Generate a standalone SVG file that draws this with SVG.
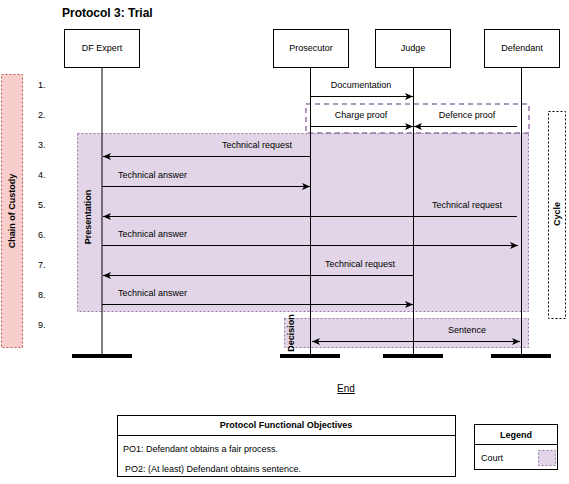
<svg xmlns="http://www.w3.org/2000/svg" width="569" height="484" viewBox="0 0 569 484">
<defs>
<style>
text{font-family:"Liberation Sans",Arial,sans-serif;font-size:9px;fill:#000}
.b{font-weight:bold}
.title{font-size:12px;font-weight:bold}
.box{fill:#fff;stroke:#000;stroke-width:1}
.life{stroke:#000;stroke-width:1}
.bar{fill:#000}
.msg{stroke:#000;stroke-width:1;fill:none}
.court{fill:#e1d5e7;stroke:#9673a6;stroke-width:1;stroke-dasharray:2,2}
.grp{fill:none;stroke:#9673a6;stroke-width:1.5;stroke-dasharray:5,4}
.coc{fill:#f8cecc;stroke:#b85450;stroke-width:1;stroke-dasharray:2,2}
.cyc{fill:#fff;stroke:#000;stroke-width:1;stroke-dasharray:2,2}
</style>
<marker id="ah" viewBox="0 0 8 7" refX="8" refY="3.5" markerWidth="8" markerHeight="7" markerUnits="userSpaceOnUse" orient="auto-start-reverse">
<path d="M0,0 L8,3.5 L0,7 L2,3.5 z" fill="#000"/>
</marker>
</defs>
<rect width="569" height="484" fill="#fff"/>
<text class="title" x="62" y="17">Protocol 3: Trial</text>

<g id="chain-of-custody">
<rect class="coc" x="1.5" y="74.5" width="21" height="273"/>
<text class="b" transform="translate(15,211) rotate(-90)" text-anchor="middle">Chain of Custody</text>
</g>

<g id="cycle">
<rect class="cyc" x="548.5" y="111.5" width="17" height="207"/>
<text class="b" transform="translate(560,214) rotate(-90)" text-anchor="middle">Cycle</text>
</g>

<g id="presentation">
<rect class="court" x="77.5" y="133.5" width="451" height="178"/>
<text class="b" transform="translate(91,217) rotate(-90)" text-anchor="middle">Presentation</text>
</g>

<g id="decision">
<rect class="court" x="284.5" y="318.5" width="244" height="29"/>
<text class="b" transform="translate(294,333) rotate(-90)" text-anchor="middle">Decision</text>
</g>

<g id="proof-group">
<rect class="grp" x="306" y="104" width="223" height="29"/>
</g>

<g id="row-numbers">
<text x="38" y="88">1.</text>
<text x="38" y="118">2.</text>
<text x="38" y="148">3.</text>
<text x="38" y="178">4.</text>
<text x="38" y="208">5.</text>
<text x="38" y="238">6.</text>
<text x="38" y="268">7.</text>
<text x="38" y="298">8.</text>
<text x="38" y="328">9.</text>
</g>

<g id="df-expert">
<rect class="box" x="64.5" y="29.5" width="75" height="38"/>
<text x="102" y="51" text-anchor="middle">DF Expert</text>
<line class="life" x1="102" y1="67.5" x2="102" y2="355"/>
<rect class="bar" x="72" y="354" width="60" height="4"/>
</g>

<g id="prosecutor">
<rect class="box" x="273.5" y="29.5" width="75" height="38"/>
<text x="311" y="51" text-anchor="middle">Prosecutor</text>
<line class="life" x1="310.5" y1="67.5" x2="310.5" y2="355"/>
<rect class="bar" x="280" y="354" width="60" height="4"/>
</g>

<g id="judge">
<rect class="box" x="375.5" y="29.5" width="75" height="38"/>
<text x="413" y="51" text-anchor="middle">Judge</text>
<line class="life" x1="413.5" y1="67.5" x2="413.5" y2="355"/>
<rect class="bar" x="383" y="354" width="60" height="4"/>
</g>

<g id="defendant">
<rect class="box" x="484.5" y="29.5" width="75" height="38"/>
<text x="522" y="51" text-anchor="middle">Defendant</text>
<line class="life" x1="521.5" y1="67.5" x2="521.5" y2="355"/>
<rect class="bar" x="491" y="354" width="60" height="4"/>
</g>

<g id="connectors">
<line class="msg" x1="310.5" y1="96.5" x2="413" y2="96.5" marker-end="url(#ah)"/>
<text x="361" y="88" text-anchor="middle">Documentation</text>

<line class="msg" x1="310.5" y1="126.5" x2="413" y2="126.5" marker-end="url(#ah)"/>
<text x="361" y="118" text-anchor="middle">Charge proof</text>
<line class="msg" x1="517" y1="126.5" x2="414" y2="126.5" marker-end="url(#ah)"/>
<text x="467" y="118" text-anchor="middle">Defence proof</text>

<line class="msg" x1="310.5" y1="156.5" x2="103" y2="156.5" marker-end="url(#ah)"/>
<text x="292" y="148" text-anchor="end">Technical request</text>

<line class="msg" x1="102" y1="186.5" x2="310" y2="186.5" marker-end="url(#ah)"/>
<text x="118" y="178">Technical answer</text>

<line class="msg" x1="517" y1="216.5" x2="103" y2="216.5" marker-end="url(#ah)"/>
<text x="502" y="208" text-anchor="end">Technical request</text>

<line class="msg" x1="102" y1="245.5" x2="518" y2="245.5" marker-end="url(#ah)"/>
<text x="118" y="237">Technical answer</text>

<line class="msg" x1="413.5" y1="275.5" x2="103" y2="275.5" marker-end="url(#ah)"/>
<text x="395" y="267" text-anchor="end">Technical request</text>

<line class="msg" x1="102" y1="304.5" x2="413" y2="304.5" marker-end="url(#ah)"/>
<text x="118" y="296">Technical answer</text>

<line class="msg" x1="312" y1="341.5" x2="520" y2="341.5" marker-start="url(#ah)" marker-end="url(#ah)"/>
<text x="467" y="333" text-anchor="middle">Sentence</text>
</g>

<g id="end">
<text x="346" y="392" text-anchor="middle" style="font-size:10px;text-decoration:underline">End</text>
</g>

<g id="objectives">
<rect class="box" x="117.5" y="415.5" width="338" height="61"/>
<line class="life" x1="117.5" y1="435.5" x2="455.5" y2="435.5"/>
<text class="b" x="286" y="428" text-anchor="middle">Protocol Functional Objectives</text>
<text x="123" y="452">PO1: Defendant obtains a fair process.</text>
<text x="125" y="472">PO2: (At least) Defendant obtains sentence.</text>
</g>

<g id="legend">
<rect class="box" x="474.5" y="424.5" width="83" height="45"/>
<line class="life" x1="474.5" y1="444.5" x2="557.5" y2="444.5"/>
<text class="b" x="516" y="438" text-anchor="middle">Legend</text>
<text x="481" y="461">Court</text>
<rect class="court" x="538.5" y="450.5" width="17" height="15"/>
</g>
</svg>
